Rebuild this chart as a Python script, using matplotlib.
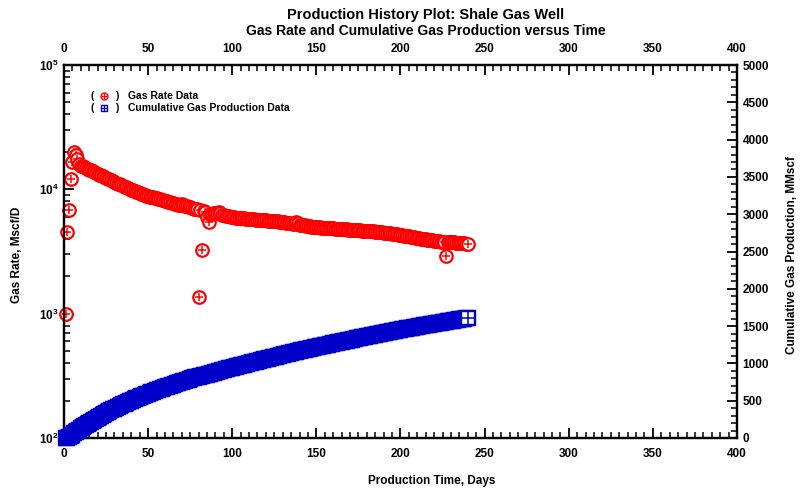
#!/usr/bin/env python3
# -*- coding: utf-8 -*-
"""
Production history plot for a shale gas well: daily gas rate (log scale,
left axis) and cumulative gas production (linear, right axis) vs. time.
Writes out.png.
"""

import numpy as np
import matplotlib
matplotlib.use("Agg")
import matplotlib.pyplot as plt
from matplotlib.lines import Line2D
from matplotlib.ticker import FixedLocator, FixedFormatter, MultipleLocator, NullFormatter

# ---------------------------------------------------------------------------
# Data (one value per production day, day 1 .. 240)
# ---------------------------------------------------------------------------
DAYS = list(range(1, 241))

# gas rate, Mscf/D
GAS_RATE = [
    1000, 4500, 6800, 12000, 16500, 19800, 19000, 17500, 16000,            # 1-9
    15500, 15300, 15000, 14800, 14600, 14400, 14200, 14000, 13800, 13500,  # 10-19
    13300, 13150, 13000, 12800, 12600, 12400, 12200, 12050, 11900, 11700,  # 20-29
    11500, 11300, 11100, 10950, 10800, 10650, 10500, 10350, 10200, 10050,  # 30-39
    9900, 9800, 9700, 9600, 9450, 9300, 9200, 9100, 9000, 8900,            # 40-49
    8850, 8750, 8700, 8600, 8550, 8450, 8400, 8300, 8250, 8150,            # 50-59
    8100, 8000, 7950, 7850, 7800, 7700, 7650, 7600, 7550, 7500,            # 60-69
    7600, 7500, 7400, 7300, 7250, 7200, 7100, 7000, 6950, 6900,            # 70-79
    1350, 6800, 3250, 6700, 6600, 6000, 5500, 6350, 6300, 6400,            # 80-89
    6450, 6500, 6600, 6400, 6250, 6200, 6150, 6100, 6050, 6000,            # 90-99
    6000, 5950, 5900, 5880, 5850, 5870, 5900, 5850, 5800, 5800,            # 100-109
    5800, 5780, 5750, 5720, 5700, 5690, 5680, 5660, 5650, 5640,            # 110-119
    5620, 5610, 5600, 5590, 5580, 5560, 5550, 5520, 5500, 5470,            # 120-129
    5450, 5420, 5400, 5370, 5350, 5320, 5300, 5280, 5500, 5400,            # 130-139
    5200, 5180, 5150, 5120, 5100, 5070, 5050, 5020, 5000, 4990,            # 140-149
    4980, 4960, 4950, 4930, 4920, 4910, 4900, 4880, 4870, 4860,            # 150-159
    4850, 4830, 4820, 4810, 4800, 4790, 4780, 4770, 4760, 4750,            # 160-169
    4740, 4730, 4720, 4710, 4700, 4690, 4680, 4660, 4650, 4630,            # 170-179
    4620, 4610, 4600, 4590, 4580, 4560, 4550, 4530, 4520, 4500,            # 180-189
    4480, 4460, 4450, 4440, 4420, 4400, 4380, 4360, 4340, 4320,            # 190-199
    4300, 4280, 4250, 4220, 4200, 4180, 4150, 4120, 4100, 4080,            # 200-209
    4060, 4040, 4020, 4000, 3980, 3960, 3940, 3920, 3900, 3880,            # 210-219
    3860, 3840, 3820, 3810, 3800, 3795, 3790, 2900, 3780, 3775,            # 220-229
    3770, 3755, 3740, 3730, 3720, 3710, 3700, 3690, 3680, 3665,            # 230-239
    3650,                                                                  # 240
]

# cumulative gas production, MMscf
CUM_GAS = [
    1, 6, 12, 24, 41, 61, 80, 97, 113,                       # 1-9
    129, 144, 159, 174, 188, 203, 217, 231, 245, 258,        # 10-19
    272, 285, 298, 310, 323, 335, 348, 360, 372, 383,        # 20-29
    395, 406, 417, 428, 439, 450, 460, 470, 481, 491,        # 30-39
    501, 510, 520, 530, 539, 548, 558, 567, 576, 585,        # 40-49
    594, 602, 611, 620, 628, 637, 645, 653, 662, 670,        # 50-59
    678, 686, 694, 702, 709, 717, 725, 732, 740, 747,        # 60-69
    755, 762, 770, 777, 784, 792, 799, 806, 813, 820,        # 70-79
    821, 828, 831, 838, 844, 850, 856, 862, 868, 875,        # 80-89
    881, 888, 894, 901, 907, 913, 919, 925, 932, 938,        # 90-99
    944, 949, 955, 961, 967, 973, 979, 985, 991, 996,        # 100-109
    1002, 1008, 1014, 1019, 1025, 1031, 1036, 1042, 1048, 1053,  # 110-119
    1059, 1065, 1070, 1076, 1081, 1087, 1092, 1098, 1104, 1109,  # 120-129
    1114, 1120, 1125, 1131, 1136, 1141, 1147, 1152, 1157, 1163,  # 130-139
    1168, 1173, 1178, 1183, 1189, 1194, 1199, 1204, 1209, 1214,  # 140-149
    1219, 1224, 1229, 1233, 1238, 1243, 1248, 1253, 1258, 1263,  # 150-159
    1268, 1272, 1277, 1282, 1287, 1292, 1296, 1301, 1306, 1311,  # 160-169
    1316, 1320, 1325, 1330, 1334, 1339, 1344, 1348, 1353, 1358,  # 170-179
    1362, 1367, 1372, 1376, 1381, 1385, 1390, 1394, 1399, 1403,  # 180-189
    1408, 1412, 1417, 1421, 1426, 1430, 1434, 1439, 1443, 1447,  # 190-199
    1452, 1456, 1460, 1464, 1469, 1473, 1477, 1481, 1485, 1489,  # 200-209
    1493, 1497, 1501, 1505, 1509, 1513, 1517, 1521, 1525, 1529,  # 210-219
    1533, 1537, 1540, 1544, 1548, 1552, 1556, 1559, 1562, 1566,  # 220-229
    1570, 1574, 1577, 1581, 1585, 1589, 1592, 1596, 1600, 1603,  # 230-239
    1607,                                                        # 240
]

RATE_TICKS = [1e2, 1e3, 1e4, 1e5]
RATE_TICK_LABELS = [r"$\mathbf{10^{2}}$", r"$\mathbf{10^{3}}$",
                    r"$\mathbf{10^{4}}$", r"$\mathbf{10^{5}}$"]

RED = "#ff0000"
BLUE = "#0000c8"
FONT = "Liberation Sans"


def setup_style():
    matplotlib.rcParams.update({
        "font.family": FONT,
        "font.weight": "bold",
        "mathtext.fontset": "custom",
        "mathtext.bf": FONT + ":bold",
        "mathtext.rm": FONT + ":bold",
        "axes.linewidth": 1.6,
    })


def plot_all():
    setup_style()
    W, H = 803, 493
    fig = plt.figure(figsize=(W / 100, H / 100), dpi=100)
    ax = fig.add_axes([64 / W, 1 - 438 / H, (737 - 64) / W, (438 - 65) / H])
    ax2 = ax.twinx()

    days = np.array(DAYS, dtype=float)
    rate = np.array(GAS_RATE, dtype=float)
    cum = np.array(CUM_GAS, dtype=float)

    # gas rate: open red circle with a plus inside, drawn point by point
    # so each symbol sits on top of the previous one
    for d, q in zip(days, rate):
        ax.plot([d], [q], ls="none", marker="o", ms=9.0, mfc="white",
                mec=RED, mew=1.6, clip_on=False, zorder=3)
        ax.plot([d], [q], ls="none", marker="+", ms=5.5, mec=RED,
                mew=1.1, clip_on=False, zorder=3)

    # cumulative: open blue square with a plus inside
    for d, c in zip(days, cum):
        ax2.plot([d], [c], ls="none", marker="s", ms=9.5, mfc="white",
                 mec=BLUE, mew=1.7, clip_on=False, zorder=3)
        ax2.plot([d], [c], ls="none", marker="+", ms=9.0, mec=BLUE,
                 mew=1.1, clip_on=False, zorder=3)

    # left axis (log)
    ax.set_yscale("log")
    ax.set_ylim(1e2, 1e5)
    ax.yaxis.set_major_locator(FixedLocator(RATE_TICKS))
    ax.yaxis.set_major_formatter(FixedFormatter(RATE_TICK_LABELS))
    ax.yaxis.set_minor_formatter(NullFormatter())

    # x axis, labelled top and bottom
    ax.set_xlim(0, 400)
    ax.xaxis.set_major_locator(MultipleLocator(50))
    ax.xaxis.set_minor_locator(MultipleLocator(5))
    ax.tick_params(axis="x", which="both", top=True, labeltop=True,
                   bottom=True, labelbottom=True)
    ax.tick_params(which="major", direction="in", length=7, width=1.3,
                   labelsize=8.5)
    ax.tick_params(which="minor", direction="in", length=4, width=1.1)
    ax.tick_params(axis="x", which="major", pad=7)
    ax.tick_params(axis="y", which="major", left=True, right=False, pad=4)
    ax.tick_params(axis="y", which="minor", left=True, right=False)

    # right axis (linear)
    ax2.set_ylim(0, 5000)
    ax2.yaxis.set_major_locator(MultipleLocator(500))
    ax2.yaxis.set_minor_locator(MultipleLocator(100))
    ax2.tick_params(which="major", direction="in", length=7, width=1.3,
                    labelsize=8.5, pad=4)
    ax2.tick_params(which="minor", direction="in", length=4, width=1.1)

    for a in (ax, ax2):
        for lab in a.get_xticklabels() + a.get_yticklabels():
            lab.set_fontweight("bold")

    # legend drawn as text with marker glyphs
    rows = [(96, RED, "o", "Gas Rate Data"),
            (108, BLUE, "s", "Cumulative Gas Production Data")]
    for ypx, col, mk, label in rows:
        yf = 1 - ypx / H
        fig.text(92 / W, yf, "(", fontsize=7.5, fontweight="bold",
                 ha="center", va="center")
        fig.text(117 / W, yf, ")", fontsize=7.5, fontweight="bold",
                 ha="center", va="center")
        fig.text(128 / W, yf, label, fontsize=7.5, fontweight="bold",
                 ha="left", va="center")
        fig.lines.append(Line2D(
            [104.5 / W], [yf], transform=fig.transFigure, ls="none",
            marker=mk, ms=5, mfc="white", mec=col, mew=1.0))
        fig.lines.append(Line2D(
            [104.5 / W], [yf], transform=fig.transFigure, ls="none",
            marker="+", ms=4, mec=col, mew=0.9))

    # titles and axis labels
    fig.text(426 / W, 1 - 15 / H, "Production History Plot: Shale Gas Well",
             fontsize=10.5, fontweight="bold", ha="center", va="center")
    fig.text(426 / W, 1 - 31 / H,
             "Gas Rate and Cumulative Gas Production versus Time",
             fontsize=10, fontweight="bold", ha="center", va="center")
    fig.text(432 / W, 1 - 481 / H, "Production Time, Days",
             fontsize=8.5, fontweight="bold", ha="center", va="center")
    fig.text(17 / W, 1 - 255 / H, "Gas Rate, Mscf/D", fontsize=8.5,
             fontweight="bold", rotation=90, ha="center", va="center")
    fig.text(792 / W, 1 - 255 / H, "Cumulative Gas Production, MMscf",
             fontsize=8.5, fontweight="bold", rotation=90,
             ha="center", va="center")

    fig.savefig("out.png", dpi=100)
    plt.close(fig)


def main():
    plot_all()


if __name__ == "__main__":
    main()
